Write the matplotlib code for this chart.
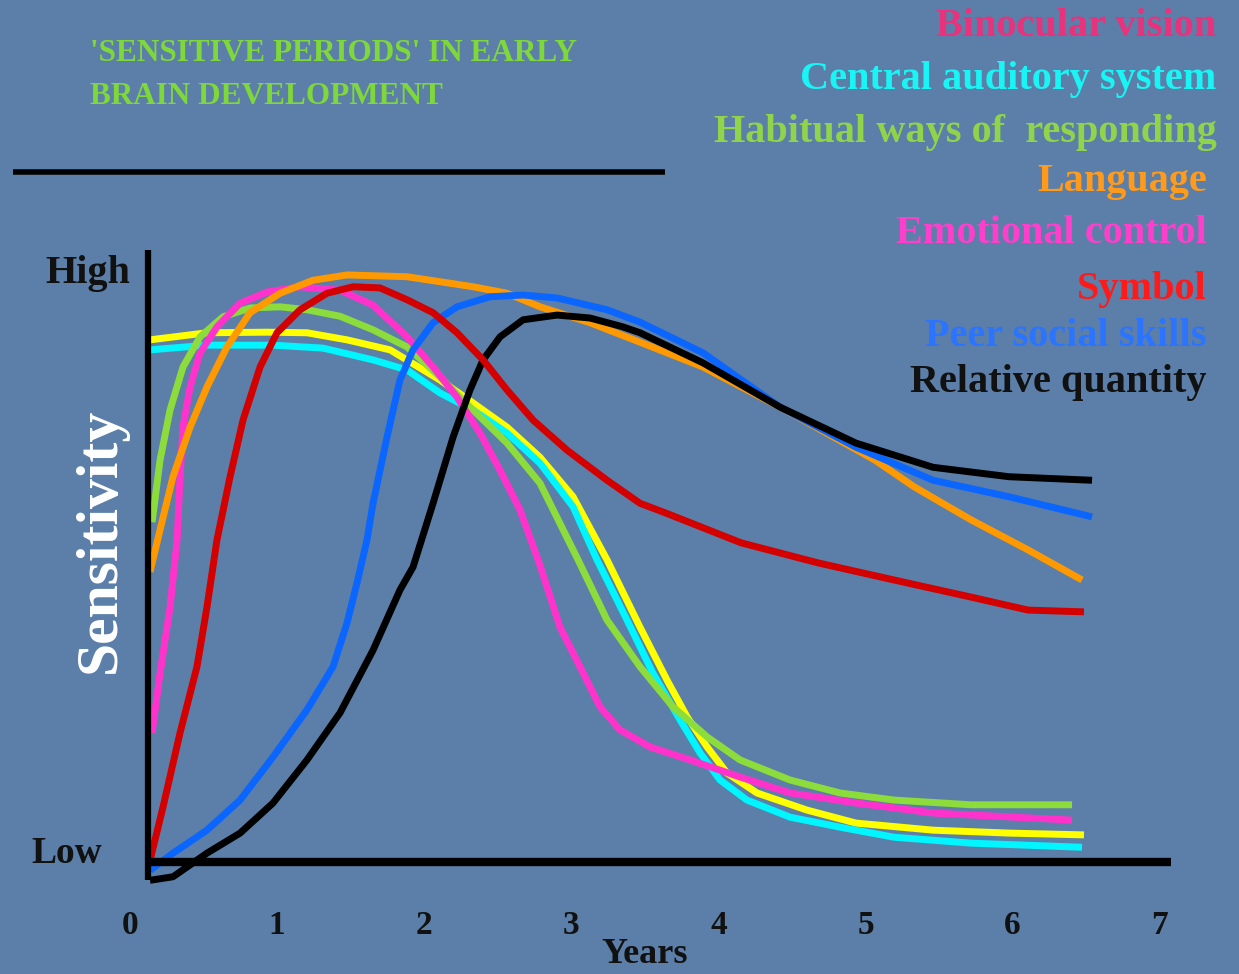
import matplotlib
matplotlib.use("Agg")
import matplotlib.pyplot as plt

# ---------------- data (years, sensitivity 0=Low .. 1=High) ----------------
yellow_x = [0.136, 0.523, 0.931, 1.203, 1.475, 1.768, 2.107, 2.332, 2.563, 2.787, 3.012, 3.243, 3.467, 3.651, 3.787, 3.923, 4.058, 4.262, 4.602, 4.935, 5.459, 5.976, 6.485]
yellow_y = [0.885, 0.897, 0.898, 0.897, 0.885, 0.868, 0.817, 0.778, 0.737, 0.686, 0.619, 0.512, 0.398, 0.308, 0.246, 0.195, 0.151, 0.117, 0.088, 0.066, 0.054, 0.049, 0.046]

cyan_x = [0.136, 0.523, 0.972, 1.312, 1.652, 1.883, 2.107, 2.332, 2.563, 2.787, 3.012, 3.175, 3.379, 3.555, 3.739, 3.875, 4.011, 4.194, 4.487, 4.827, 5.194, 5.717, 6.472]
cyan_y = [0.868, 0.876, 0.876, 0.871, 0.851, 0.834, 0.795, 0.766, 0.727, 0.676, 0.602, 0.512, 0.41, 0.32, 0.241, 0.185, 0.139, 0.105, 0.076, 0.059, 0.042, 0.032, 0.025]

green_x = [0.15, 0.204, 0.272, 0.36, 0.476, 0.632, 0.816, 1.02, 1.203, 1.428, 1.652, 1.883, 2.107, 2.332, 2.563, 2.787, 3.046, 3.243, 3.467, 3.691, 3.923, 4.147, 4.487, 4.827, 5.194, 5.717, 6.404]
green_y = [0.576, 0.681, 0.766, 0.839, 0.89, 0.924, 0.939, 0.941, 0.936, 0.925, 0.902, 0.873, 0.822, 0.766, 0.71, 0.642, 0.512, 0.41, 0.331, 0.263, 0.212, 0.173, 0.139, 0.117, 0.105, 0.097, 0.097]

orange_x = [0.136, 0.204, 0.292, 0.408, 0.523, 0.659, 0.816, 1.02, 1.244, 1.475, 1.883, 2.332, 2.563, 2.787, 3.127, 3.467, 3.895, 4.419, 5.065, 5.33, 5.717, 6.105, 6.472]
orange_y = [0.492, 0.563, 0.653, 0.737, 0.805, 0.873, 0.931, 0.964, 0.986, 0.995, 0.992, 0.975, 0.964, 0.941, 0.914, 0.881, 0.839, 0.771, 0.681, 0.636, 0.58, 0.529, 0.478]

pink_x = [0.15, 0.204, 0.272, 0.32, 0.34, 0.36, 0.408, 0.476, 0.591, 0.748, 0.931, 1.156, 1.428, 1.652, 1.883, 2.06, 2.223, 2.379, 2.515, 2.651, 2.787, 2.923, 3.059, 3.195, 3.331, 3.535, 3.807, 4.147, 4.487, 4.935, 5.459, 6.404]
pink_y = [0.219, 0.32, 0.432, 0.546, 0.653, 0.737, 0.805, 0.863, 0.907, 0.947, 0.966, 0.975, 0.969, 0.944, 0.89, 0.839, 0.788, 0.727, 0.664, 0.597, 0.503, 0.398, 0.331, 0.263, 0.224, 0.195, 0.173, 0.144, 0.117, 0.1, 0.083, 0.071]

red_x = [0.136, 0.224, 0.34, 0.455, 0.523, 0.591, 0.68, 0.768, 0.884, 0.999, 1.156, 1.339, 1.516, 1.70, 1.883, 2.06, 2.223, 2.4, 2.563, 2.74, 2.971, 3.243, 3.467, 3.637, 4.154, 4.677, 5.194, 5.717, 6.105, 6.485]
red_y = [0.003, 0.093, 0.219, 0.331, 0.432, 0.546, 0.653, 0.749, 0.839, 0.897, 0.936, 0.964, 0.975, 0.973, 0.953, 0.931, 0.897, 0.851, 0.8, 0.749, 0.698, 0.647, 0.608, 0.592, 0.541, 0.507, 0.478, 0.449, 0.427, 0.424]

blue_x = [0.136, 0.292, 0.523, 0.748, 0.972, 1.203, 1.38, 1.475, 1.543, 1.611, 1.652, 1.747, 1.835, 1.924, 2.06, 2.223, 2.447, 2.672, 2.903, 3.243, 3.467, 3.895, 4.419, 4.935, 5.459, 5.976, 6.54]
blue_y = [-0.014, 0.015, 0.054, 0.105, 0.178, 0.258, 0.331, 0.405, 0.473, 0.546, 0.608, 0.72, 0.817, 0.868, 0.914, 0.941, 0.958, 0.961, 0.956, 0.936, 0.915, 0.863, 0.771, 0.703, 0.647, 0.619, 0.585]

black_x = [0.136, 0.292, 0.523, 0.748, 0.972, 1.203, 1.428, 1.652, 1.835, 1.924, 2.06, 2.196, 2.311, 2.4, 2.515, 2.672, 2.903, 3.127, 3.351, 3.467, 3.895, 4.419, 4.935, 5.459, 5.976, 6.54]
black_y = [-0.031, -0.025, 0.015, 0.049, 0.1, 0.173, 0.253, 0.359, 0.461, 0.5, 0.608, 0.72, 0.8, 0.851, 0.89, 0.919, 0.927, 0.922, 0.907, 0.897, 0.846, 0.771, 0.71, 0.669, 0.653, 0.647]

x_ticks = [0, 1, 2, 3, 4, 5, 6, 7]
x_tick_labels = ["0", "1", "2", "3", "4", "5", "6", "7"]

legend_labels = ["Binocular vision", "Central auditory system", "Habitual ways of  responding",
                 "Language", "Emotional control", "Symbol", "Peer social skills", "Relative quantity"]
legend_colors = ["#e8327c", "#19f5f5", "#8fd44a", "#ff9a1a", "#ff3fcc", "#ff1a1a", "#2a74ff", "#111111"]

title_lines = ["'SENSITIVE PERIODS' IN EARLY", "BRAIN DEVELOPMENT"]

# ---------------- figure ----------------
BG = "#5b7fa8"
fig = plt.figure(figsize=(12.39, 9.74), dpi=100, facecolor=BG)
ax = fig.add_axes([0, 0, 1, 1])
ax.set_facecolor(BG)
ax.set_xlim(-0.884, 7.539)
ax.set_ylim(-0.1898, 1.461)
ax.axis("off")

serif = "Liberation Serif"
LW = 5.0

series = [
    (yellow_x, yellow_y, "#ffff00"),
    (cyan_x, cyan_y, "#00f5ff"),
    (green_x, green_y, "#8cdc3c"),
    (pink_x, pink_y, "#ff33cc"),
    (orange_x, orange_y, "#ff9900"),
    (blue_x, blue_y, "#0a66ff"),
    (black_x, black_y, "#000000"),
    (red_x, red_y, "#d40000"),
]
for xs, ys, c in series:
    ax.plot(xs, ys, color=c, lw=LW, solid_capstyle="butt", solid_joinstyle="round", zorder=3)

# axes lines
ax.plot([0.10, 7.08], [0, 0], color="black", lw=6, solid_capstyle="butt", zorder=4)
ax.plot([0.122, 0.122], [-0.03, 1.037], color="black", lw=4.5, solid_capstyle="butt", zorder=4)
# separator under title
ax.plot([-0.795, 3.637], [1.169, 1.169], color="black", lw=4, solid_capstyle="butt", zorder=4)

# tick labels
for t, lab in zip(x_ticks, x_tick_labels):
    ax.text(t, -0.108, lab, ha="center", va="center", fontsize=24, fontweight="bold",
            family=serif, color="#111111")
ax.text(3.5, -0.156, "Years", ha="center", va="center", fontsize=26, fontweight="bold",
        family=serif, color="#111111")

ax.text(-0.285, 0.998, "High", ha="center", va="center", fontsize=29, fontweight="bold",
        family=serif, color="#111111")
ax.text(-0.43, 0.015, "Low", ha="center", va="center", fontsize=27, fontweight="bold",
        family=serif, color="#111111")
ax.text(-0.20, 0.545, "Sensitivity", ha="center", va="center", rotation=90, fontsize=43,
        fontweight="bold", family=serif, color="white")

# legend text (right aligned)
leg_right = [7.386, 7.386, 7.386, 7.32, 7.32, 7.32, 7.32, 7.32]
leg_y = [1.416, 1.326, 1.236, 1.153, 1.066, 0.970, 0.890, 0.812]
for lab, col, xr, yy in zip(legend_labels, legend_colors, leg_right, leg_y):
    ax.text(xr, yy, lab, ha="right", va="center", fontsize=29, fontweight="bold",
            family=serif, color=col)

# title
ax.text(-0.272, 1.371, title_lines[0], ha="left", va="center", fontsize=22.5,
        fontweight="bold", family=serif, color="#7fd83a")
ax.text(-0.272, 1.297, title_lines[1], ha="left", va="center", fontsize=22.5,
        fontweight="bold", family=serif, color="#7fd83a")

fig.savefig("out.png", dpi=100, facecolor=BG)
